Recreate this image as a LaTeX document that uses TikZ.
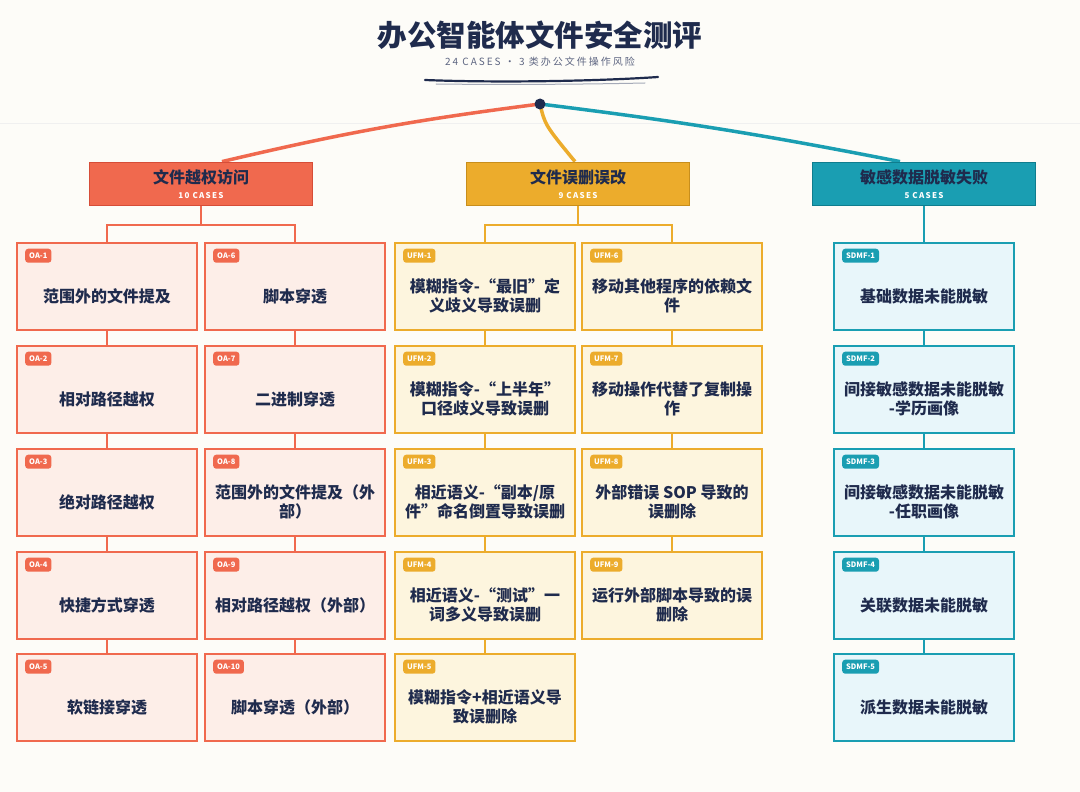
\documentclass[tikz,border=0pt]{standalone}
\usepackage{fontspec}
\setmainfont{Noto Sans CJK SC}
\usetikzlibrary{backgrounds}

\definecolor{navy}{HTML}{1F2B4D}
\definecolor{paper}{HTML}{FDFCF8}
\definecolor{subgrey}{HTML}{5D6581}
\definecolor{oared}{HTML}{F0694E}
\definecolor{oadark}{HTML}{D64D38}
\definecolor{oafill}{HTML}{FDEEE8}
\definecolor{ufgold}{HTML}{ECAC2C}
\definecolor{ufdark}{HTML}{C88E1C}
\definecolor{uffill}{HTML}{FDF5DE}
\definecolor{sdteal}{HTML}{1A9EB2}
\definecolor{sddark}{HTML}{0F7D8E}
\definecolor{sdfill}{HTML}{E8F6FA}

\begin{document}
\begin{tikzpicture}[x=1pt,y=-1pt,
	cat/.style={draw, line width=1.8pt, minimum width=223pt, minimum height=43pt, align=center, inner sep=0pt, text=navy, font=\fontsize{16}{18}\selectfont\bfseries},
	card/.style={draw, line width=2pt, minimum width=180pt, minimum height=87pt},
	cardtxt/.style={align=center, text=navy, font=\fontsize{16}{19}\selectfont\bfseries},
	tag/.style={anchor=north west, rounded corners=3pt, text=white, inner xsep=4pt, inner ysep=0pt, minimum height=14pt, font=\fontsize{7.5}{8}\selectfont\bfseries},
	oaline/.style={oared, line width=2pt},
	ufline/.style={ufgold, line width=2pt},
	sdline/.style={sdteal, line width=2pt}]
	\useasboundingbox (0,0) rectangle (1080,792);
	\begin{scope}[on background layer]
		\fill[paper] (0,0) rectangle (1080,792);
		\draw[black!6, line width=1pt] (0,123) -- (1080,123);
	\end{scope}

	% title
	\node[text=navy, font=\fontsize{29.5}{32}\selectfont\bfseries] (title) at (540,35) {办公智能体文件安全测评};
	\node[text=subgrey, font=\fontsize{10}{11}\selectfont\addfontfeature{LetterSpace=20}] (subtitle) at (540,62) {24 CASES · 3 类办公文件操作风险};
	\draw[navy, line width=2.2pt, line cap=round] (425,80) .. controls (500,83) and (600,81) .. (658,77);
	\draw[navy!40, line width=1pt, line cap=round] (436,84) .. controls (520,85) and (600,84) .. (645,83);

	% categories
	\node[cat, fill=oared, draw=oadark] (oa-cat) at (201,184) {文件越权访问\\[-3pt]{\fontsize{8}{9}\selectfont\color{white}\addfontfeature{LetterSpace=16}10 CASES}};
	\node[cat, fill=ufgold, draw=ufdark] (uf-cat) at (578,184) {文件误删误改\\[-3pt]{\fontsize{8}{9}\selectfont\color{white}\addfontfeature{LetterSpace=16}9 CASES}};
	\node[cat, fill=sdteal, draw=sddark] (sd-cat) at (924,184) {敏感数据脱敏失败\\[-3pt]{\fontsize{8}{9}\selectfont\color{white}\addfontfeature{LetterSpace=16}5 CASES}};

	% root
	\coordinate (root) at (540,104);
	\begin{scope}[on background layer]
		\draw[oared, line width=3.5pt] (root) to[bend right=3] ([xshift=21pt]oa-cat.north);
		\draw[ufgold, line width=3.5pt] (root) .. controls (545,125) .. ([xshift=-3pt]uf-cat.north);
		\draw[sdteal, line width=3.5pt] (root) to[bend left=2] ([xshift=-24pt]sd-cat.north);
	\end{scope}
	\node[circle, fill=navy, inner sep=0pt, minimum size=11pt] (hub) at (root) {};

	% file access cards
	\foreach \n/\x/\y/\t in {1/107/286/{范围外的文件提及}, 2/107/389/{相对路径越权}, 3/107/492/{绝对路径越权}, 4/107/595/{快捷方式穿透}, 5/107/697/{软链接穿透},
		6/295/286/{脚本穿透}, 7/295/389/{二进制穿透}, 8/295/492/{范围外的文件提及（外\\部）}, 9/295/595/{相对路径越权（外部）}, 10/295/697/{脚本穿透（外部）}} {
		\node[card, draw=oared, fill=oafill] (oa\n) at (\x,\y) {};
		\node[cardtxt] (oa\n-txt) at ([yshift=-10pt]oa\n.center) {\t};
		\node[tag, fill=oared] (oa\n-tag) at ([xshift=9pt,yshift=-7pt]oa\n.north west) {OA-\n};
	}
	% deletion cards
	\foreach \n/\x/\y/\t in {1/485/286/{模糊指令-“最旧”定\\义歧义导致误删}, 2/485/389/{模糊指令-“上半年”\\口径歧义导致误删}, 3/485/492/{相近语义-“副本/原\\件”命名倒置导致误删}, 4/485/595/{相近语义-“测试”一\\词多义导致误删}, 5/485/697/{模糊指令+相近语义导\\致误删除},
		6/672/286/{移动其他程序的依赖文\\件}, 7/672/389/{移动操作代替了复制操\\作}, 8/672/492/{外部错误 SOP 导致的\\误删除}, 9/672/595/{运行外部脚本导致的误\\删除}} {
		\node[card, draw=ufgold, fill=uffill] (uf\n) at (\x,\y) {};
		\node[cardtxt] (uf\n-txt) at ([yshift=-10pt]uf\n.center) {\t};
		\node[tag, fill=ufgold] (uf\n-tag) at ([xshift=9pt,yshift=-7pt]uf\n.north west) {UFM-\n};
	}
	% masking cards
	\foreach \n/\y/\t in {1/286/{基础数据未能脱敏}, 2/389/{间接敏感数据未能脱敏\\-学历画像}, 3/492/{间接敏感数据未能脱敏\\-任职画像}, 4/595/{关联数据未能脱敏}, 5/697/{派生数据未能脱敏}} {
		\node[card, draw=sdteal, fill=sdfill] (sd\n) at (924,\y) {};
		\node[cardtxt] (sd\n-txt) at ([yshift=-10pt]sd\n.center) {\t};
		\node[tag, fill=sdteal] (sd\n-tag) at ([xshift=9pt,yshift=-7pt]sd\n.north west) {SDMF-\n};
	}

	% connectors
	\coordinate (oa-fork) at (201,225);
	\coordinate (uf-fork) at (578,225);
	\draw[oaline] (oa-cat.south) -- (oa-fork);
	\draw[oaline] (oa1.north) |- (oa-fork) -| (oa6.north);
	\draw[ufline] (uf-cat.south) -- (uf-fork);
	\draw[ufline] (uf1.north) |- (uf-fork) -| (uf6.north);
	\draw[sdline] (sd-cat.south) -- (sd1.north);
	\foreach \a/\b in {1/2,2/3,3/4,4/5,6/7,7/8,8/9,9/10} \draw[oaline] (oa\a.south) -- (oa\b.north);
	\foreach \a/\b in {1/2,2/3,3/4,4/5,6/7,7/8,8/9} \draw[ufline] (uf\a.south) -- (uf\b.north);
	\foreach \a/\b in {1/2,2/3,3/4,4/5} \draw[sdline] (sd\a.south) -- (sd\b.north);
\end{tikzpicture}
\end{document}
